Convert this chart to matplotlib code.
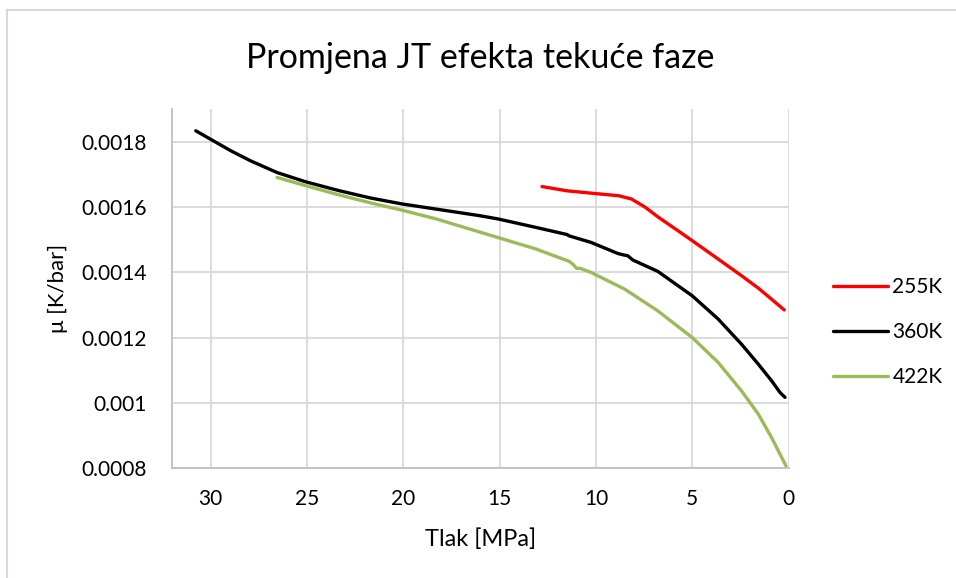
import numpy as np
import matplotlib
matplotlib.use('Agg')
import matplotlib.pyplot as plt
from matplotlib.ticker import FuncFormatter, MultipleLocator
from matplotlib.patches import Rectangle

# data (pressure in MPa, JT coefficient in K/bar)
p_255 = [12.8, 11.5, 10.1, 8.83, 8.16, 7.45, 6.76, 5.75, 5.0, 3.66, 2.45,
         1.58, 0.89, 0.23]
mu_255 = [0.001663, 0.00165, 0.001642, 0.001635, 0.001625, 0.0016, 0.001569,
          0.001528, 0.001497, 0.001441, 0.00139, 0.001352, 0.001318,
          0.001285]

p_360 = [30.77, 30.0, 28.96, 27.93, 26.55, 25.09, 23.3, 21.7, 20.09, 16.06,
         15.1, 13.13, 11.5, 11.4, 10.26, 8.87, 8.61, 8.35, 8.09, 6.79, 5.0,
         3.66, 2.45, 1.58, 0.89, 0.45, 0.19]
mu_360 = [0.001834, 0.001808, 0.001773, 0.001742, 0.001706, 0.001678,
          0.00165, 0.001628, 0.00161, 0.001574, 0.001564, 0.001538,
          0.001516, 0.001512, 0.001492, 0.001458, 0.001454, 0.001451,
          0.001438, 0.001403, 0.001328, 0.001257, 0.00118, 0.001119,
          0.001068, 0.001032, 0.001017]

p_422 = [26.55, 25.09, 23.3, 21.7, 20.09, 18.3, 15.1, 13.13, 11.4, 11.2,
         11.0, 10.85, 10.26, 8.52, 6.79, 5.0, 3.66, 2.45, 1.58, 0.89, 0.45,
         0.14]
mu_422 = [0.001691, 0.001666, 0.001637, 0.001613, 0.001591, 0.001564,
          0.001507, 0.001472, 0.001434, 0.001425, 0.001412, 0.001413,
          0.0014, 0.001349, 0.001282, 0.0012, 0.001124, 0.001037,
          0.000966, 0.000894, 0.000843, 0.000807]

series = [('255K', p_255, mu_255, '#ff0000'),
          ('360K', p_360, mu_360, '#000000'),
          ('422K', p_422, mu_422, '#9bbb59')]

plt.rcParams['font.family'] = ['Lato', 'DejaVu Sans']

fig = plt.figure(figsize=(9.56, 5.78), dpi=100)
ax = fig.add_axes([0.180, 0.190, 0.645, 0.621])

# chart area border (Excel style)
fig.patches.append(Rectangle((7 / 956, -0.1), 1.2, 1 - 10 / 578 + 0.1,
                             transform=fig.transFigure, fill=False,
                             edgecolor='#d9d9d9', linewidth=1.5))

for name, p, mu, col in series:
    ax.plot(p, mu, color=col, linewidth=2.4, label=name,
            solid_capstyle='round', solid_joinstyle='round')

ax.set_xlim(32, 0)
ax.set_ylim(0.0008, 0.0019)
ax.xaxis.set_major_locator(MultipleLocator(5))
ax.set_yticks([0.0008, 0.001, 0.0012, 0.0014, 0.0016, 0.0018])
ax.yaxis.set_major_formatter(FuncFormatter(lambda v, _: '%g' % v))

ax.grid(color='#d9d9d9', linewidth=1.3)
ax.set_axisbelow(True)
for s in ['top', 'right']:
    ax.spines[s].set_visible(False)
for s in ['left', 'bottom']:
    ax.spines[s].set_color('#bfbfbf')
    ax.spines[s].set_linewidth(1.3)
ax.tick_params(length=0, labelsize=15, colors='#000000', pad=18)
ax.tick_params(axis='x', pad=15)

ax.set_xlabel('Tlak [MPa]', fontsize=17, labelpad=14)
ax.set_ylabel('μ [K/bar]', fontsize=16, labelpad=10)
ax.set_title('Promjena JT efekta tekuće faze', fontsize=24.5, pad=30)

ax.legend(loc='center left', bbox_to_anchor=(833 / 956, 1 - 332 / 578),
          bbox_transform=fig.transFigure, frameon=False,
          fontsize=15, handlelength=2.65, handletextpad=0.2,
          labelspacing=1.2, borderaxespad=0, borderpad=0)

fig.savefig('out.png', dpi=100)
